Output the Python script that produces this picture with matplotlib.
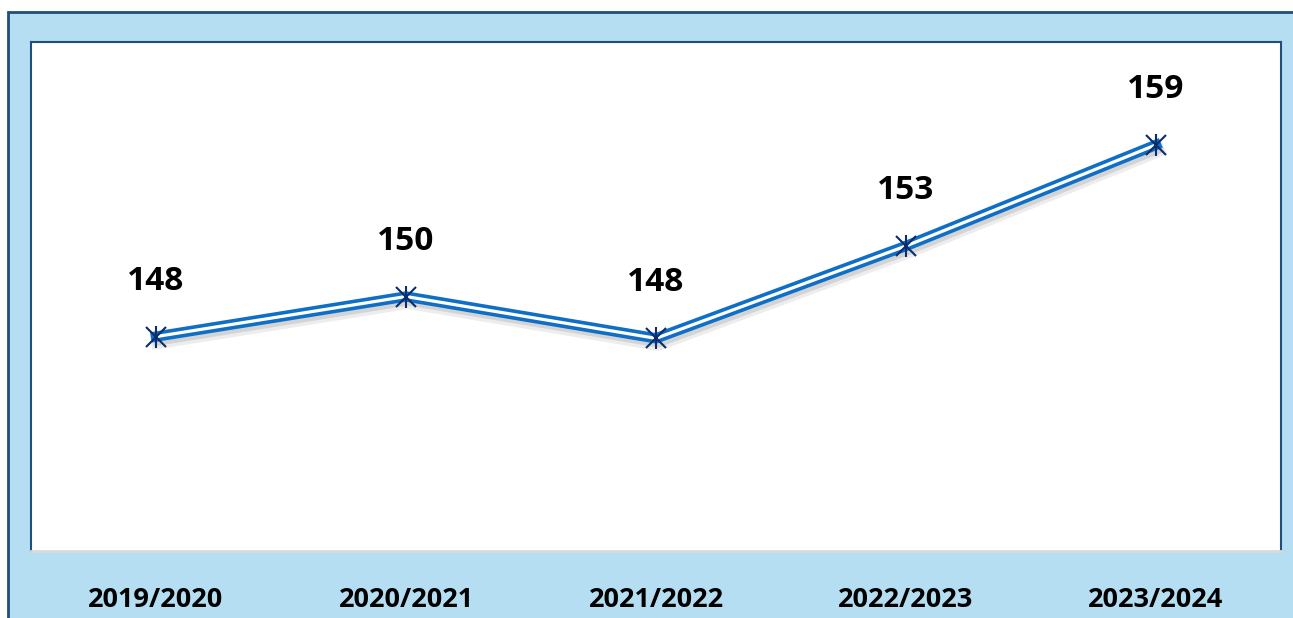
import matplotlib
matplotlib.use("Agg")
import matplotlib.pyplot as plt
import matplotlib.patheffects as pe
from matplotlib.patches import Rectangle

# --- Data ---
seasons = ["2019/2020", "2020/2021", "2021/2022", "2022/2023", "2023/2024"]
values = [148, 150.3, 147.9, 153.2, 159]
labels = ["148", "150", "148", "153", "159"]

# --- Colours ---
FRAME_BG = "#b5def2"
FRAME_EDGE = "#1f4e79"
LINE_BLUE = "#0f6fc6"
MARKER = "#0b2d6b"

W, H = 1293, 618
fig = plt.figure(figsize=(W / 100, H / 100), dpi=100, facecolor="white")

# outer light-blue frame (behind the axes)
frame = Rectangle((8 / W, -0.05), 1.2, 1 - 12 / H + 0.05, transform=fig.transFigure,
                  facecolor=FRAME_BG, edgecolor=FRAME_EDGE, lw=2, zorder=-5)
fig.patches.append(frame)

# plot area
ax = fig.add_axes([31 / W, 1 - 551 / H, 1250 / W, 509 / H])
ax.set_zorder(2)
ax.set_facecolor("white")
for side in ["left", "top", "right"]:
    ax.spines[side].set_color(FRAME_EDGE)
    ax.spines[side].set_linewidth(1.5)
ax.spines["bottom"].set_color("#d9d9d9")
ax.spines["bottom"].set_linewidth(2)

x = list(range(len(seasons)))
# soft drop shadow built from a few faint offset copies
shadow = [pe.SimpleLineShadow(offset=(1.5, -4), shadow_color="black", alpha=0.07, linewidth=10),
          pe.SimpleLineShadow(offset=(1.5, -3), shadow_color="black", alpha=0.1, linewidth=7),
          pe.Normal()]
ax.plot(x, values, color=LINE_BLUE, lw=7.5, path_effects=shadow, zorder=3)
ax.plot(x, values, color="white", lw=2.3, zorder=4)
ax.plot(x, values, ls="none", marker="x", ms=14, mew=1.5, color=MARKER, zorder=5)
ax.plot(x, values, ls="none", marker="|", ms=16, mew=1.5, color=MARKER, zorder=5)

for xi, v, lab in zip(x, values, labels):
    ax.annotate(lab, (xi, v), xytext=(0, 28), textcoords="offset points", ha="center",
                va="bottom", fontsize=24, fontweight="bold", family="Open Sans", color="black")

ax.set_xlim(-0.5, 4.5)
ax.set_ylim(135.7, 164.9)
ax.set_yticks([])
ax.set_xticks(x)
ax.set_xticklabels(seasons, fontsize=19.5, fontweight="bold", family="Open Sans")
ax.tick_params(axis="x", length=0, pad=26)

fig.savefig("out.png", dpi=100)
